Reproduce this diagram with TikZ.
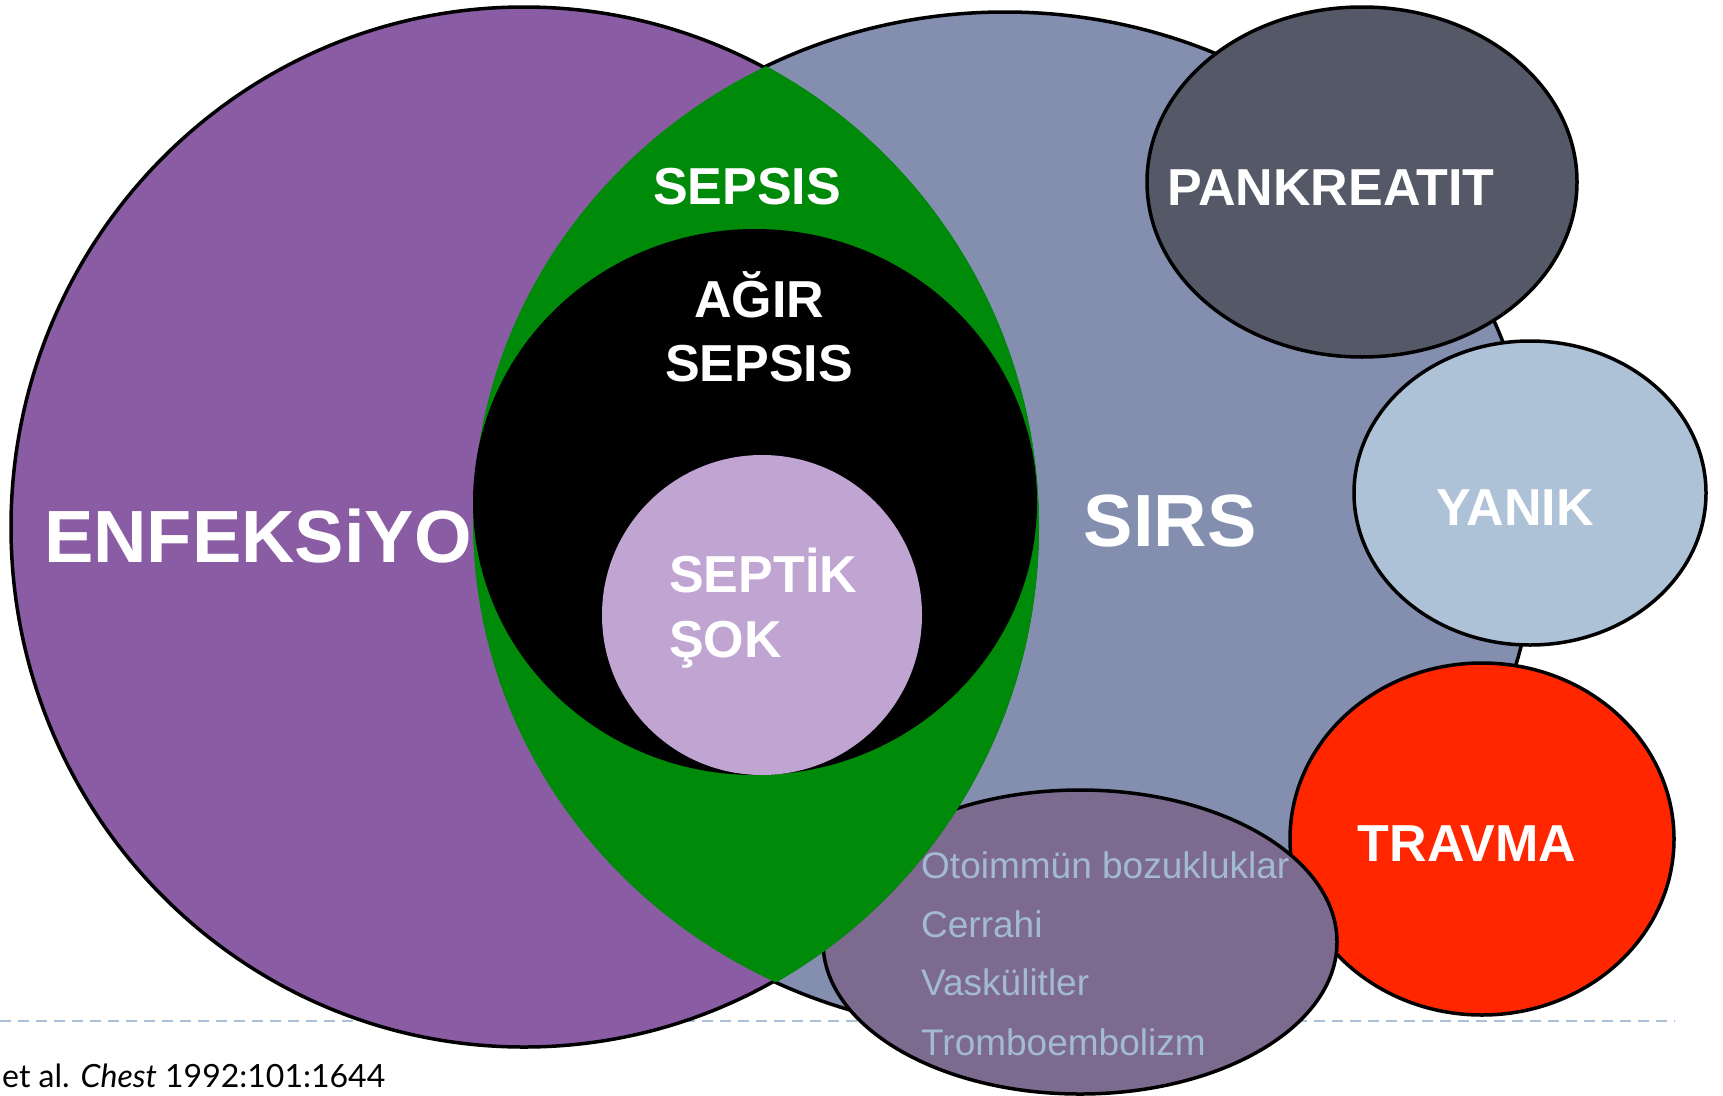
\documentclass[tikz,border=0pt]{standalone}
\usepackage{fontspec}
\setmainfont{Liberation Sans}
\newfontfamily\citefont{Lato}
\newlength{\du}
\setlength{\du}{1pt}
\definecolor{enfcolor}{RGB}{138,92,163}
\definecolor{sirscolor}{RGB}{132,143,176}
\definecolor{sepsiscolor}{RGB}{0,138,10}
\definecolor{septikcolor}{RGB}{192,164,210}
\definecolor{pankcolor}{RGB}{85,88,102}
\definecolor{yanikcolor}{RGB}{173,194,215}
\definecolor{travmacolor}{RGB}{255,38,0}
\definecolor{otocolor}{RGB}{125,106,143}
\definecolor{listcolor}{RGB}{163,186,212}
\definecolor{rulecolor}{RGB}{170,192,214}
\tikzset{
  ringline/.style={draw=black, line width=3.5\du},
  ruleline/.style={draw=rulecolor, line width=2\du, dash pattern=on 11\du off 7\du},
  bigtext/.style={text=white, inner sep=0pt, font=\bfseries\fontsize{74}{80}\selectfont},
  midtext/.style={text=white, inner sep=0pt, font=\bfseries\fontsize{52}{60}\selectfont},
  listtext/.style={text=listcolor, inner sep=0pt, anchor=base west, font=\fontsize{37}{44}\selectfont},
  citetext/.style={inner sep=0pt, font=\citefont\fontsize{32}{36}\selectfont},
}
\begin{document}
\begin{tikzpicture}
\pgftransformyscale{-1.000000}
\useasboundingbox (0\du,0\du) rectangle (1723\du,1095\du);
% dashed rule under everything
\draw[ruleline] (0\du,1021\du)--(1675\du,1021\du);
% SIRS and its causes
\filldraw[ringline, fill=sirscolor] (1005\du,522\du) ellipse ({532\du} and {510\du});
\filldraw[ringline, fill=pankcolor] (1362\du,182\du) ellipse ({215\du} and {175\du});
\filldraw[ringline, fill=yanikcolor] (1530\du,493\du) ellipse ({176\du} and {152\du});
\filldraw[ringline, fill=travmacolor] (1482\du,839\du) ellipse ({192\du} and {176\du});
\filldraw[ringline, fill=otocolor] (1080\du,942\du) ellipse ({257\du} and {152\du});
% infection
\filldraw[ringline, fill=enfcolor] (524\du,527\du) ellipse ({513\du} and {520\du});
% sepsis = overlap, a bit wider so it hides the ring
\begin{scope}
\clip (1005\du,522\du) ellipse ({532\du} and {510\du});
\fill[sepsiscolor] (524\du,527\du) ellipse ({515\du} and {522\du});
\end{scope}
\fill[black] (755\du,502\du) ellipse ({282\du} and {273\du});
\fill[septikcolor] (762\du,615\du) circle ({160\du});
% texts
\node[bigtext, anchor=base] (enf) at (258\du,562\du){ENFEKSiYO};
\node[bigtext, anchor=base] (sirs) at (1170\du,546\du){SIRS};
\node[midtext, anchor=base] (sepsis) at (747\du,204\du){SEPSIS};
\node[midtext, anchor=base] (agir) at (759\du,317\du){AĞIR};
\node[midtext, anchor=base] (agirsepsis) at (759\du,381\du){SEPSIS};
\node[midtext, anchor=base west] (septik) at (669\du,592\du){SEPTİK};
\node[midtext, anchor=base west] (sok) at (669\du,657\du){ŞOK};
\node[midtext, anchor=base] (pank) at (1331\du,205\du){PANKREATIT};
\node[midtext, anchor=base] (yanik) at (1515\du,525\du){YANIK};
\node[midtext, anchor=base] (travma) at (1467\du,861\du){TRAVMA};
\node[listtext] (otoimmun) at (921\du,878\du){Otoimmün bozukluklar};
\node[listtext] (cerrahi) at (921\du,937\du){Cerrahi};
\node[listtext] (vaskulit) at (921\du,995\du){Vaskülitler};
\node[listtext] (trombo) at (921\du,1055\du){Tromboembolizm};
\node[citetext, anchor=base west] (cite) at (2\du,1087\du){et al. \textit{Chest} 1992:101:1644};
\end{tikzpicture}
\end{document}
